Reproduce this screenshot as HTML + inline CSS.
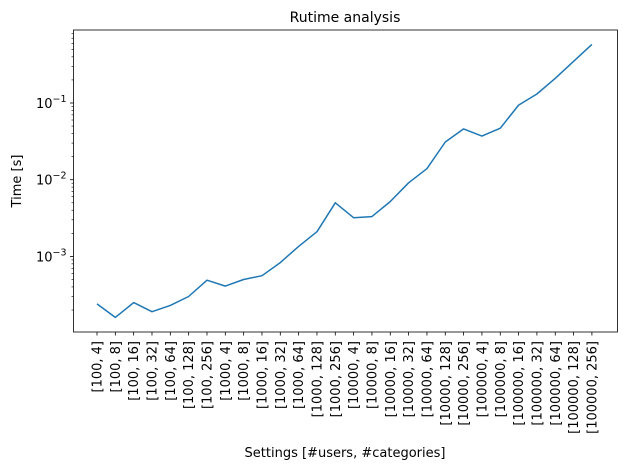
<!DOCTYPE html>
<html><head><meta charset="utf-8"><style>
body{margin:0;background:#fff;}
svg{display:block;font-family:"DejaVu Sans","Liberation Sans",sans-serif;}
</style></head><body>
<svg id="chart" width="630" height="470"></svg>
<script>
const categories=["[100, 4]","[100, 8]","[100, 16]","[100, 32]","[100, 64]","[100, 128]","[100, 256]","[1000, 4]","[1000, 8]","[1000, 16]","[1000, 32]","[1000, 64]","[1000, 128]","[1000, 256]","[10000, 4]","[10000, 8]","[10000, 16]","[10000, 32]","[10000, 64]","[10000, 128]","[10000, 256]","[100000, 4]","[100000, 8]","[100000, 16]","[100000, 32]","[100000, 64]","[100000, 128]","[100000, 256]"];
const times=[2.4e-4,1.6e-4,2.5e-4,1.9e-4,2.3e-4,3.0e-4,4.9e-4,4.1e-4,5.0e-4,5.6e-4,8.3e-4,1.35e-3,2.1e-3,5.0e-3,3.2e-3,3.3e-3,5.2e-3,9.1e-3,0.0139,0.031,0.046,0.037,0.047,0.094,0.131,0.21,0.35,0.58];
const yTickExps=[-3,-2,-1];

const NS="http://www.w3.org/2000/svg";
const svg=document.getElementById('chart');
const L=73.5,R=617.5,T=30,B=332;
const x0=97,dx=18.33;
const yTop=26.3,dec=76.7;
function xs(i){return x0+i*dx;}
function ys(v){return yTop-Math.log10(v)*dec;}
function mk(tag,attrs,parent){const e=document.createElementNS(NS,tag);for(const k in attrs)e.setAttribute(k,attrs[k]);(parent||svg).appendChild(e);return e;}

let t=mk('text',{x:345,y:22,'text-anchor':'middle','font-size':'14'});t.textContent='Rutime analysis';



yTickExps.forEach(e=>{
  const y=ys(Math.pow(10,e));
  const l=mk('line',{x1:L-3.5,x2:L,y1:y,y2:y,stroke:'#000','stroke-width':0.8});
  
  
  const tx=mk('text',{x:L-7,y:y+5,'text-anchor':'end','font-size':'13'});
  
  
  tx.textContent='10';
  const s=mk('tspan',{dy:-6,'font-size':'9.5'},tx);s.textContent='\u2212'+Math.abs(e);
});
for(let e=-4;e<=0;e++){for(let m=2;m<=9;m++){const v=m*Math.pow(10,e);const y=ys(v);if(y<T||y>B)continue;
  const l=mk('line',{x1:L-2,x2:L,y1:y,y2:y,stroke:'#000','stroke-width':0.6});
  
  }}

categories.forEach((c,i)=>{
  const x=xs(i);
  const l=mk('line',{x1:x,x2:x,y1:B,y2:B+3.5,stroke:'#000','stroke-width':0.8});
  
  
  const tx=mk('text',{x:0,y:0,'text-anchor':'end','font-size':'13',transform:`translate(${x+4.5},${B+9}) rotate(-90)`});
  
  
  tx.textContent=c;
});

const pts=times.map((v,i)=>xs(i).toFixed(1)+','+ys(v).toFixed(1)).join(' ');
const pl=mk('polyline',{points:pts,fill:'none',stroke:'#1f77b4','stroke-width':1.5,'stroke-linejoin':'round'});



const fr=mk('rect',{x:L,y:T,width:R-L,height:B-T,fill:'none',stroke:'#000','stroke-width':0.8});



const yl=mk('text',{x:0,y:0,'text-anchor':'middle','font-size':'13',transform:'translate(21,181) rotate(-90)'});
yl.textContent='Time [s]';


const xl=mk('text',{x:345,y:457,'text-anchor':'middle','font-size':'13'});
xl.textContent='Settings [#users, #categories]';


</script>
</body></html>
